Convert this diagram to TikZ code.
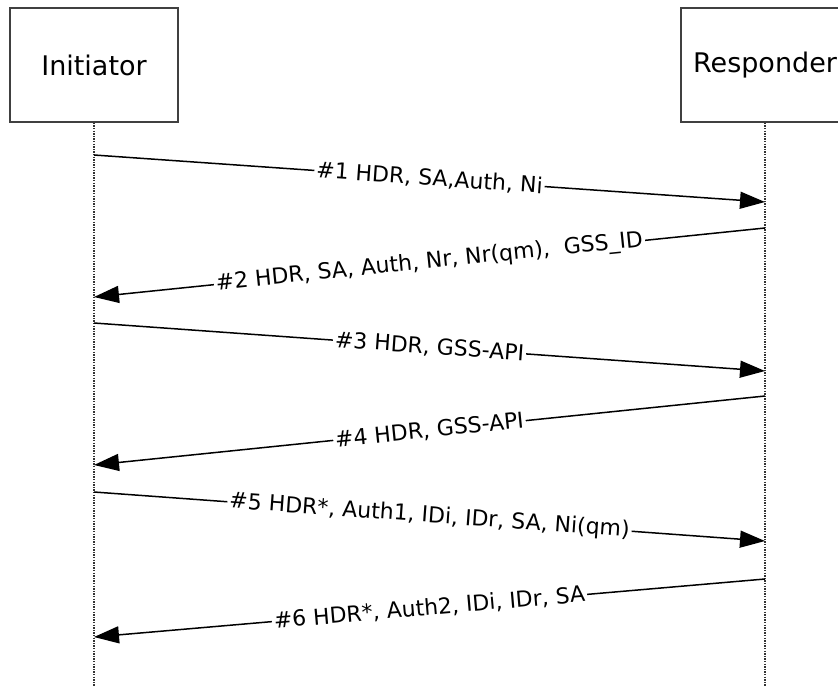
\documentclass[tikz,border=0pt]{standalone}
\usepackage{fontspec}
\setmainfont{DejaVu Sans}
\usetikzlibrary{arrows.meta}

\begin{document}
\begin{tikzpicture}[
    x=1pt, y=-1pt,
    actor/.style={draw=black!75, line width=1.5pt, rectangle, minimum width=168pt, minimum height=114pt, inner sep=0pt, font=\fontsize{27}{32}\selectfont},
    life/.style={line width=1.4pt, black!80, dash pattern=on 1.4pt off 1.2pt},
    msg/.style={-{Triangle[length=25pt, width=17pt]}, line width=1.5pt},
    lbl/.style={fill=white, inner sep=2pt, sloped, font=\fontsize{22}{26}\selectfont}
]
\useasboundingbox (0,0) rectangle (838,686);
\clip (0,0) rectangle (838,686);

% Lifeline heads
\node[actor] (init) at (94,65) {Initiator};
\node[actor] (resp) at (765,65) {Responder};

% Lifelines
\coordinate (initend) at (94,686);
\coordinate (respend) at (765,686);
\draw[life] (init) -- (initend);
\draw[life] (resp) -- (respend);

% Message end points
\coordinate (i1) at (94,155);  \coordinate (r1) at (765,202);
\coordinate (r2) at (765,228); \coordinate (i2) at (94,297);
\coordinate (i3) at (94,323);  \coordinate (r3) at (765,371);
\coordinate (r4) at (765,396); \coordinate (i4) at (94,465);
\coordinate (i5) at (94,492);  \coordinate (r5) at (765,541);
\coordinate (r6) at (765,579); \coordinate (i6) at (94,637);

% Messages
\draw[msg] (i1) -- node[lbl] (m1) {\#1 HDR, SA,Auth, Ni} (r1);
\draw[msg] (r2) -- node[lbl] (m2) {\#2 HDR, SA, Auth, Nr, Nr(qm),~ GSS\_ID} (i2);
\draw[msg] (i3) -- node[lbl] (m3) {\#3 HDR, GSS-API} (r3);
\draw[msg] (r4) -- node[lbl] (m4) {\#4 HDR, GSS-API} (i4);
\draw[msg] (i5) -- node[lbl] (m5) {\#5 HDR*, Auth1, IDi, IDr, SA, Ni(qm)} (r5);
\draw[msg] (r6) -- node[lbl] (m6) {\#6 HDR*, Auth2, IDi, IDr, SA} (i6);
\end{tikzpicture}
\end{document}
